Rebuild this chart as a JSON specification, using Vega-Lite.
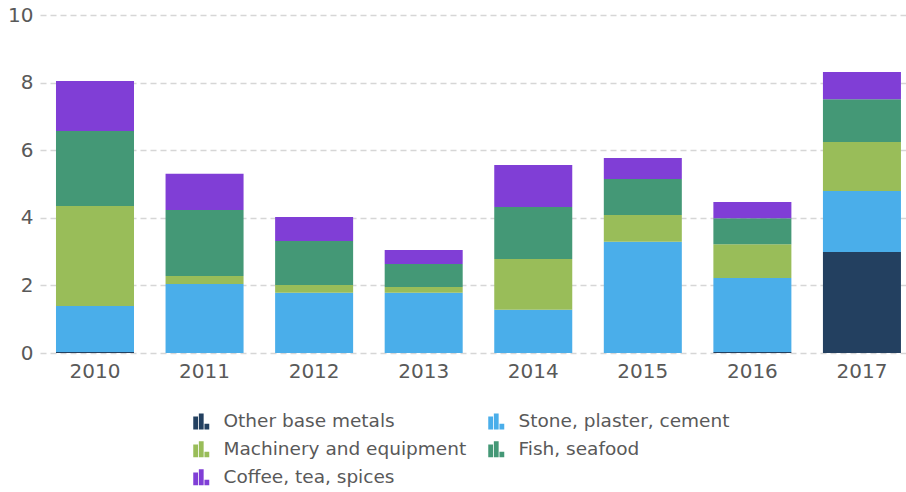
{
  "$schema": "https://vega.github.io/schema/vega-lite/v6.json",
  "width": 866,
  "height": 338,
  "autosize": {"type": "none"},
  "padding": {"left": 40, "top": 15, "right": 0, "bottom": 139},
  "config": {
    "view": {"stroke": null},
    "font": "DejaVu Sans",
    "axis": {"labelFont": "DejaVu Sans", "labelColor": "#595959", "labelFontSize": 20},
    "legend": {"labelFont": "DejaVu Sans", "labelColor": "#595959", "labelFontSize": 18.5}
  },
  "data": {
    "values": [
      {"year": "2010", "cat": "Other base metals", "o": 1, "v": 0.03},
      {"year": "2010", "cat": "Stone, plaster, cement", "o": 2, "v": 1.36},
      {"year": "2010", "cat": "Machinery and equipment", "o": 3, "v": 2.96},
      {"year": "2010", "cat": "Fish, seafood", "o": 4, "v": 2.22},
      {"year": "2010", "cat": "Coffee, tea, spices", "o": 5, "v": 1.48},
      {"year": "2011", "cat": "Other base metals", "o": 1, "v": 0},
      {"year": "2011", "cat": "Stone, plaster, cement", "o": 2, "v": 2.04},
      {"year": "2011", "cat": "Machinery and equipment", "o": 3, "v": 0.24},
      {"year": "2011", "cat": "Fish, seafood", "o": 4, "v": 1.95},
      {"year": "2011", "cat": "Coffee, tea, spices", "o": 5, "v": 1.07},
      {"year": "2012", "cat": "Other base metals", "o": 1, "v": 0},
      {"year": "2012", "cat": "Stone, plaster, cement", "o": 2, "v": 1.78},
      {"year": "2012", "cat": "Machinery and equipment", "o": 3, "v": 0.23},
      {"year": "2012", "cat": "Fish, seafood", "o": 4, "v": 1.30},
      {"year": "2012", "cat": "Coffee, tea, spices", "o": 5, "v": 0.71},
      {"year": "2013", "cat": "Other base metals", "o": 1, "v": 0},
      {"year": "2013", "cat": "Stone, plaster, cement", "o": 2, "v": 1.78},
      {"year": "2013", "cat": "Machinery and equipment", "o": 3, "v": 0.17},
      {"year": "2013", "cat": "Fish, seafood", "o": 4, "v": 0.68},
      {"year": "2013", "cat": "Coffee, tea, spices", "o": 5, "v": 0.42},
      {"year": "2014", "cat": "Other base metals", "o": 1, "v": 0},
      {"year": "2014", "cat": "Stone, plaster, cement", "o": 2, "v": 1.28},
      {"year": "2014", "cat": "Machinery and equipment", "o": 3, "v": 1.50},
      {"year": "2014", "cat": "Fish, seafood", "o": 4, "v": 1.54},
      {"year": "2014", "cat": "Coffee, tea, spices", "o": 5, "v": 1.24},
      {"year": "2015", "cat": "Other base metals", "o": 1, "v": 0},
      {"year": "2015", "cat": "Stone, plaster, cement", "o": 2, "v": 3.29},
      {"year": "2015", "cat": "Machinery and equipment", "o": 3, "v": 0.79},
      {"year": "2015", "cat": "Fish, seafood", "o": 4, "v": 1.07},
      {"year": "2015", "cat": "Coffee, tea, spices", "o": 5, "v": 0.62},
      {"year": "2016", "cat": "Other base metals", "o": 1, "v": 0.03},
      {"year": "2016", "cat": "Stone, plaster, cement", "o": 2, "v": 2.19},
      {"year": "2016", "cat": "Machinery and equipment", "o": 3, "v": 1.00},
      {"year": "2016", "cat": "Fish, seafood", "o": 4, "v": 0.77},
      {"year": "2016", "cat": "Coffee, tea, spices", "o": 5, "v": 0.48},
      {"year": "2017", "cat": "Other base metals", "o": 1, "v": 2.99},
      {"year": "2017", "cat": "Stone, plaster, cement", "o": 2, "v": 1.80},
      {"year": "2017", "cat": "Machinery and equipment", "o": 3, "v": 1.45},
      {"year": "2017", "cat": "Fish, seafood", "o": 4, "v": 1.27},
      {"year": "2017", "cat": "Coffee, tea, spices", "o": 5, "v": 0.80}
    ]
  },
  "mark": {"type": "bar"},
  "encoding": {
    "x": {
      "field": "year", "type": "nominal",
      "scale": {"paddingInner": 0.288, "paddingOuter": 0.096, "align": 0.76},
      "axis": {"title": null, "labelAngle": 0, "ticks": false, "domain": false, "labelPadding": 8}
    },
    "y": {
      "field": "v", "type": "quantitative", "stack": "zero",
      "scale": {"domain": [0, 10], "nice": false},
      "axis": {"title": null, "values": [0, 2, 4, 6, 8, 10], "ticks": false, "domain": false, "labelPadding": 7,
               "gridColor": "#d6d6d6", "gridDash": [6, 4], "gridWidth": 1.5}
    },
    "color": {
      "field": "cat", "type": "nominal",
      "scale": {
        "domain": ["Other base metals", "Stone, plaster, cement", "Machinery and equipment", "Fish, seafood", "Coffee, tea, spices"],
        "range": ["#234060", "#4aaeea", "#99bd59", "#449876", "#803ed6"]
      },
      "legend": {
        "title": null, "orient": "none", "legendX": 152, "legendY": 397, "columns": 2, "direction": "horizontal",
        "symbolType": "M-1,-0.6H-0.4V1H-1Z M-0.3,-1H0.3V1H-0.3Z M0.4,0.3H1V1H0.4Z",
        "symbolSize": 256, "symbolStrokeWidth": 0, "symbolOpacity": 1,
        "labelOffset": 13, "labelLimit": 0, "columnPadding": 20, "rowPadding": 9
      }
    },
    "order": {"field": "o", "type": "quantitative"}
  }
}
